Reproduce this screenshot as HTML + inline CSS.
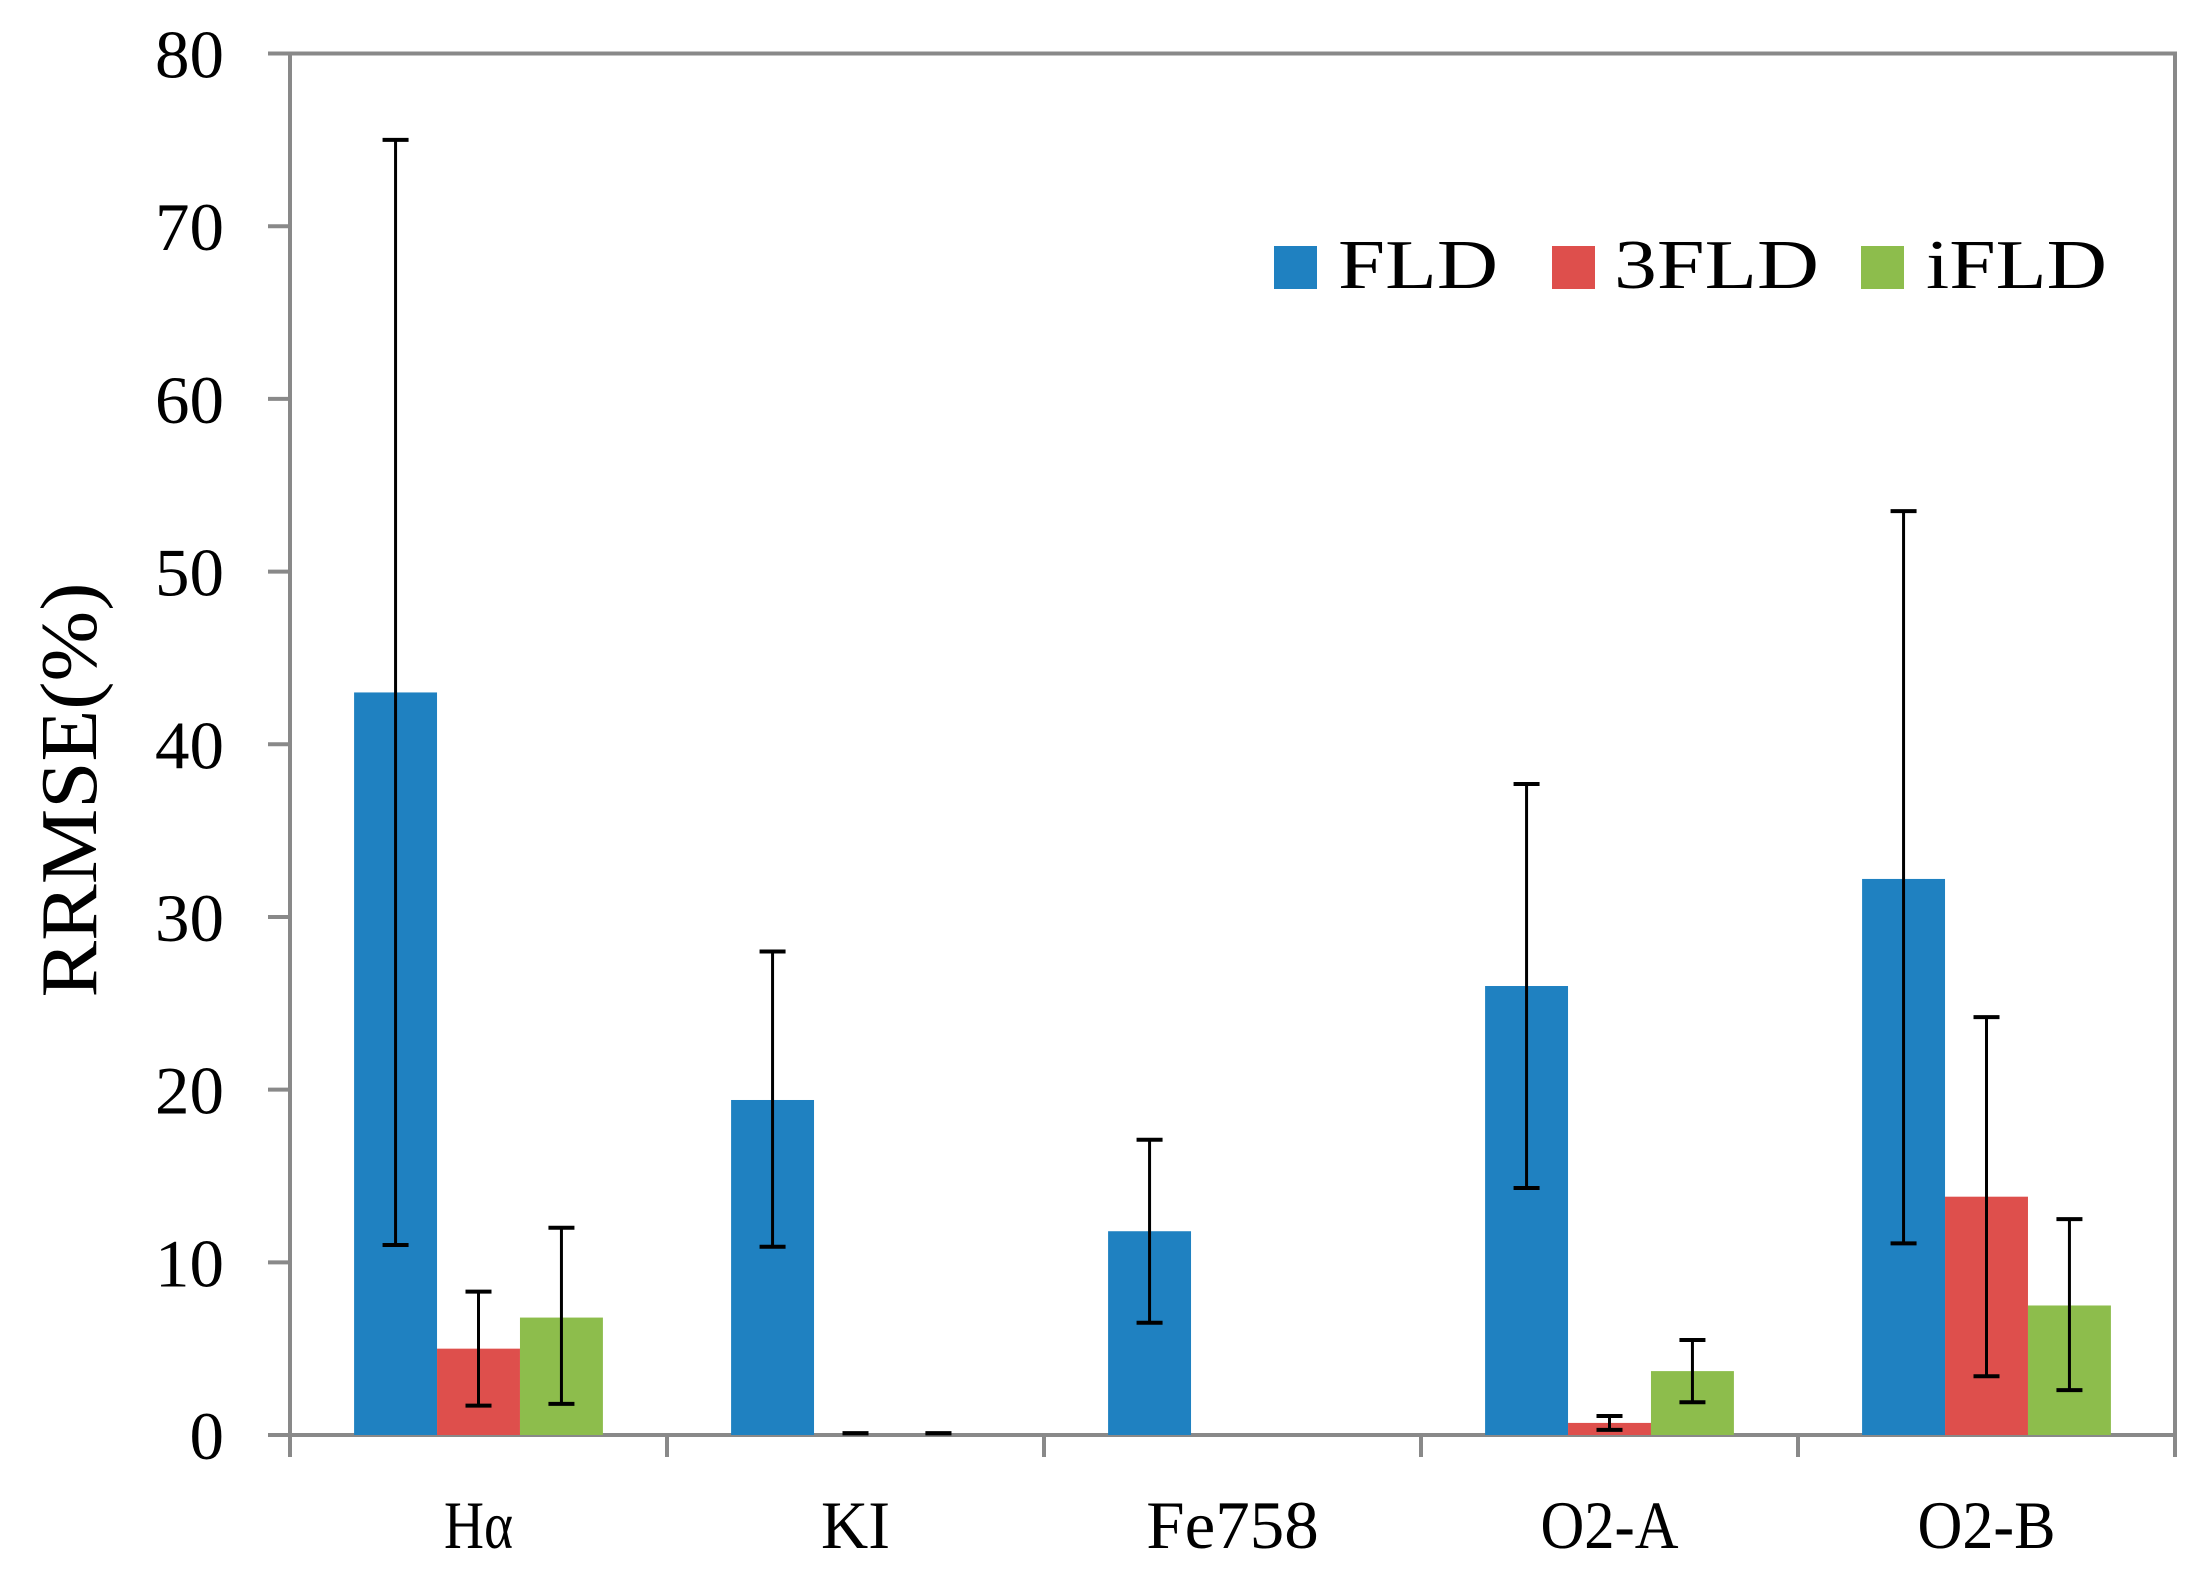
<!DOCTYPE html>
<html><head><meta charset="utf-8"><style>
html,body{margin:0;padding:0;background:#fff;}
svg{display:block;}
text{font-family:"Liberation Serif","Times New Roman",Times,serif;}
</style></head><body>
<svg id="chart" width="2207" height="1571" viewBox="0 0 2207 1571" xmlns="http://www.w3.org/2000/svg">
<rect width="2207" height="1571" fill="#fff"/>
<g id="plot"></g>
<text x="0" y="0" font-size="80" text-anchor="middle" textLength="415" lengthAdjust="spacingAndGlyphs" transform="translate(96,790) rotate(-90)">RRMSE(%)</text>
<g>
  <rect x="1274" y="246" width="43" height="43" fill="#1f81c1"/>
  <text x="1338" y="288" font-size="70" textLength="160" lengthAdjust="spacingAndGlyphs">FLD</text>
  <rect x="1552" y="246" width="43" height="43" fill="#de4f4c"/>
  <text x="1614" y="288" font-size="70" textLength="205" lengthAdjust="spacingAndGlyphs">3FLD</text>
  <rect x="1861" y="246" width="43" height="43" fill="#8dbd4c"/>
  <text x="1926" y="288" font-size="70" textLength="181" lengthAdjust="spacingAndGlyphs">iFLD</text>
</g>
</svg>
<script>
const categories = ["Hα","KI","Fe758","O2-A","O2-B"];
const seriesNames = ["FLD","3FLD","iFLD"];
const fldValues = [43, 19.4, 11.8, 26, 32.2];
const fldLow = [11, 10.9, 6.5, 14.3, 11.1];
const fldHigh = [75, 28, 17.1, 37.7, 53.5];
const threeFldValues = [5, 0, 0, 0.7, 13.8];
const threeFldLow = [1.7, 0.1, 0, 0.3, 3.4];
const threeFldHigh = [8.3, 0.1, 0, 1.1, 24.2];
const iFldValues = [6.8, 0, 0, 3.7, 7.5];
const iFldLow = [1.8, 0.1, 0, 1.9, 2.6];
const iFldHigh = [12, 0.1, 0, 5.5, 12.5];
const yTicks = [0,10,20,30,40,50,60,70,80];

const NS="http://www.w3.org/2000/svg";
const L=290,R=2175,T=53.5,B=1435,YMAX=80;
const colors=["#1f81c1","#de4f4c","#8dbd4c"];
const vals=[fldValues,threeFldValues,iFldValues];
const lows=[fldLow,threeFldLow,iFldLow];
const highs=[fldHigh,threeFldHigh,iFldHigh];
const y=v=>B-(v/YMAX)*(B-T);
const catW=(R-L)/categories.length;
const barW=catW*0.22;
const x=(ci,si)=>L+catW*(ci+0.5)+(si-1.5)*barW;
const g=document.getElementById('plot');
function mk(tag,attrs){const e=document.createElementNS(NS,tag);for(const k in attrs)e.setAttribute(k,attrs[k]);g.appendChild(e);return e;}

let f=mk('rect',{x:L,y:T,width:R-L,height:B-T,fill:'none',stroke:'#898989','stroke-width':4});



yTicks.forEach(t=>{
  const tk=mk('line',{x1:L-22,x2:L,y1:y(t),y2:y(t),stroke:'#898989','stroke-width':4});
  
  
  const s=String(t);
  const tx=mk('text',{x:224,y:y(t)+24,'font-size':68,'text-anchor':'end',textLength:s.length*34.5,lengthAdjust:'spacingAndGlyphs'});
  tx.textContent=s;
  
  
});
for(let i=0;i<=categories.length;i++){
  const xx=L+catW*i;
  const tk=mk('line',{x1:xx,x2:xx,y1:B,y2:B+22,stroke:'#898989','stroke-width':4});
  
  
}
categories.forEach((c,ci)=>{
  const tx=mk('text',{x:L+catW*(ci+0.5),y:1548,'font-size':68,'text-anchor':'middle',textLength:c.length*34.5,lengthAdjust:'spacingAndGlyphs'});
  tx.textContent=c;
  
  
});
categories.forEach((c,ci)=>{
  seriesNames.forEach((s,si)=>{
    const v=vals[si][ci];
    const x0=x(ci,si);
    if(v>0){
      const r=mk('rect',{x:x0,y:y(v),width:barW,height:B-y(v),fill:colors[si]});
      
      
    }
    const cx=x0+barW/2, lo=lows[si][ci], hi=highs[si][ci];
    if(hi>0){
      const l=mk('line',{x1:cx,x2:cx,y1:y(hi),y2:y(lo),stroke:'#000','stroke-width':3});
      
      
      [hi,lo].forEach(e=>{
        const cp=mk('line',{x1:cx-13,x2:cx+13,y1:y(e),y2:y(e),stroke:'#000','stroke-width':4});
        
        
      });
    }
  });
});
</script>
</body></html>
